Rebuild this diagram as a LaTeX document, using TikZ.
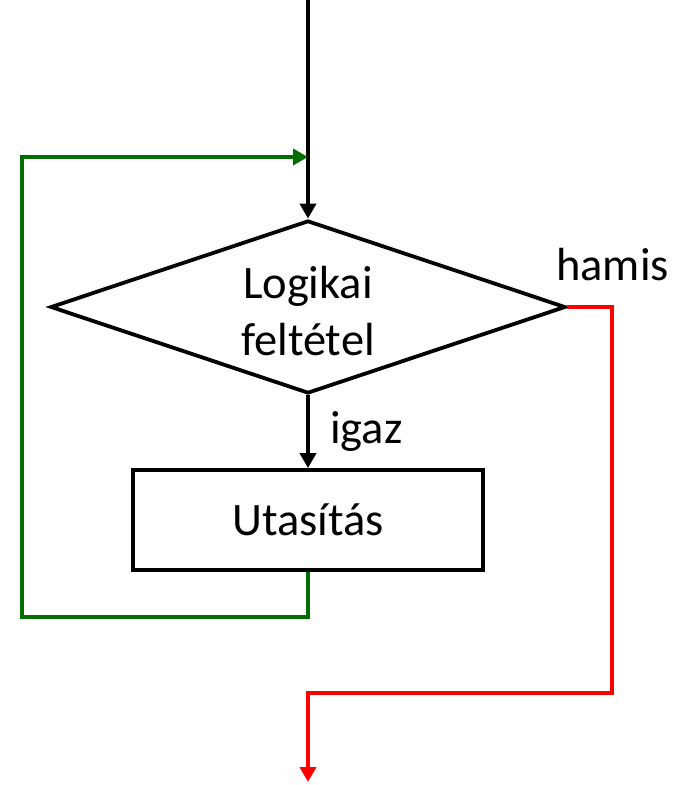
\documentclass[tikz,border=0pt]{standalone}
\usepackage{fontspec}
\setmainfont{Carlito}
\usetikzlibrary{shapes.geometric,arrows.meta}
\definecolor{loopgreen}{RGB}{0,110,0}
\definecolor{exitred}{RGB}{255,0,0}
\begin{document}
\begin{tikzpicture}[x=1pt,y=-1pt,
  flow/.style={line width=3.8pt},
  tip/.style={-{Triangle[length=15pt,width=16pt]}},
  label/.style={font=\fontsize{46.5}{57}\selectfont, inner sep=0pt},
  decision/.style={draw, line width=3.8pt, diamond, inner sep=0pt,
    minimum width=515pt, minimum height=173pt, align=center},
  action/.style={draw, line width=3.8pt, rectangle, inner sep=0pt,
    minimum width=350pt, minimum height=100pt,
    font=\fontsize{46.5}{57}\selectfont}]
  \useasboundingbox (0,0) rectangle (689,785);

  % nodes
  \node[decision] (cond) at (308,307) {};
  \node[label, align=center] (condtext) at (308,311) {Logikai\\feltétel};
  \node[action] (box) at (308,520) {Utasítás};
  \node[label, anchor=base west] (true) at (330,443) {igaz};
  \node[label, anchor=base west] (false) at (556,280) {hamis};

  % helper points
  \coordinate (entry) at (308,0);
  \coordinate (join) at (308,157);
  \coordinate (loopcorner) at (22,617);
  \coordinate (exitcorner) at (612,693);
  \coordinate (exit) at (308,782);

  % entry and true branch
  \draw[flow, tip] (entry) -- (cond.north);
  \draw[flow, tip] (cond.south) -- (box.north);

  % loop back
  \draw[flow, loopgreen, tip] (box.south) |- (loopcorner) |- (join);

  % false branch exit
  \draw[flow, exitred, tip] (cond.east) -| (exitcorner) -| (exit);
\end{tikzpicture}
\end{document}
